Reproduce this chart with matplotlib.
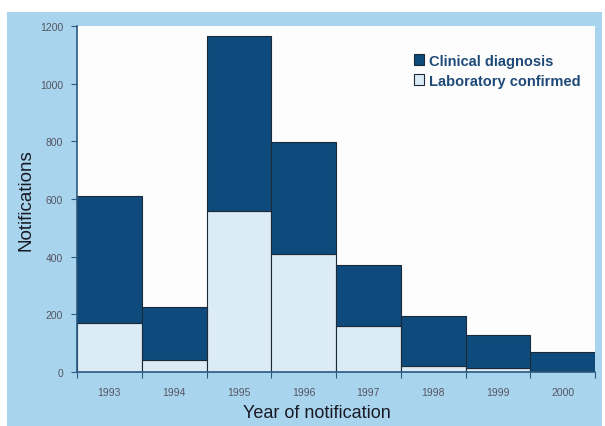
import matplotlib
matplotlib.use("Agg")
import matplotlib.pyplot as plt
import numpy as np

plt.rcParams["font.family"] = ["Liberation Sans", "DejaVu Sans"]

years = ["1993", "1994", "1995", "1996", "1997", "1998", "1999", "2000"]
lab_confirmed = [170, 40, 560, 410, 160, 20, 15, 5]
total = [610, 225, 1165, 798, 371, 194, 128, 69]
clinical = [t - l for t, l in zip(total, lab_confirmed)]
yticks = [0, 200, 400, 600, 800, 1000, 1200]

dark = "#0e4b7c"
light = "#dcecf6"
panel = "#a9d4ed"
edge = "#1b2a3a"

fig = plt.figure(figsize=(6.05, 4.27), dpi=100)
fig.patch.set_facecolor("white")
bg = fig.add_axes([7/605, 0, 595/605, 1 - 13/427], zorder=-1)
bg.set_facecolor(panel)
bg.set_xticks([]); bg.set_yticks([])
for s in bg.spines.values():
    s.set_visible(False)

ax = fig.add_axes([77/605, 54/427, 518/605, 346/427], zorder=1)
ax.set_facecolor("#fdfdfd")
x = np.arange(len(years))
ax.bar(x, lab_confirmed, width=1.0, color=light, edgecolor=edge, linewidth=0.8,
       label="Laboratory confirmed")
ax.bar(x, clinical, bottom=lab_confirmed, width=1.0, color=dark, edgecolor=edge,
       linewidth=0.8, label="Clinical diagnosis")

ax.set_xlim(-0.5, len(years) - 0.5)
ax.set_ylim(0, 1200)
ax.set_yticks(yticks)
ax.set_yticklabels([str(v) for v in yticks], fontsize=7.5, color="#555560")
ax.set_xticks(x)
ax.set_xticklabels(years, fontsize=7.5, color="#555560")
ax.tick_params(axis="x", length=0, pad=11)
ax.set_xticks(np.arange(-0.5, len(years)), minor=True)
ax.tick_params(axis="x", which="minor", length=4, color="#2a5a80", width=0.8)
ax.tick_params(axis="y", length=4, color="#2a5a80", width=0.8, pad=6)

for s in ["top", "right"]:
    ax.spines[s].set_visible(False)
for s in ["left", "bottom"]:
    ax.spines[s].set_color("#2a5a80")
    ax.spines[s].set_linewidth(1.2)

ax.set_ylabel("Notifications", fontsize=13.5, color="#1a1a24", labelpad=4)
ax.set_xlabel("Year of notification", fontsize=13, color="#1a1a24")
ax.xaxis.set_label_coords(0.463, -0.092)

handles, labels = ax.get_legend_handles_labels()
leg = ax.legend(handles[::-1], labels[::-1], loc="upper left", bbox_to_anchor=(0.651, 0.92),
                frameon=False, fontsize=10.5, handlelength=0.7, handleheight=0.7,
                handletextpad=0.3, labelspacing=0.4, borderpad=0, borderaxespad=0)
for t in leg.get_texts():
    t.set_color("#1f4a78")
    t.set_fontweight("bold")

fig.savefig("out.png", dpi=100)
